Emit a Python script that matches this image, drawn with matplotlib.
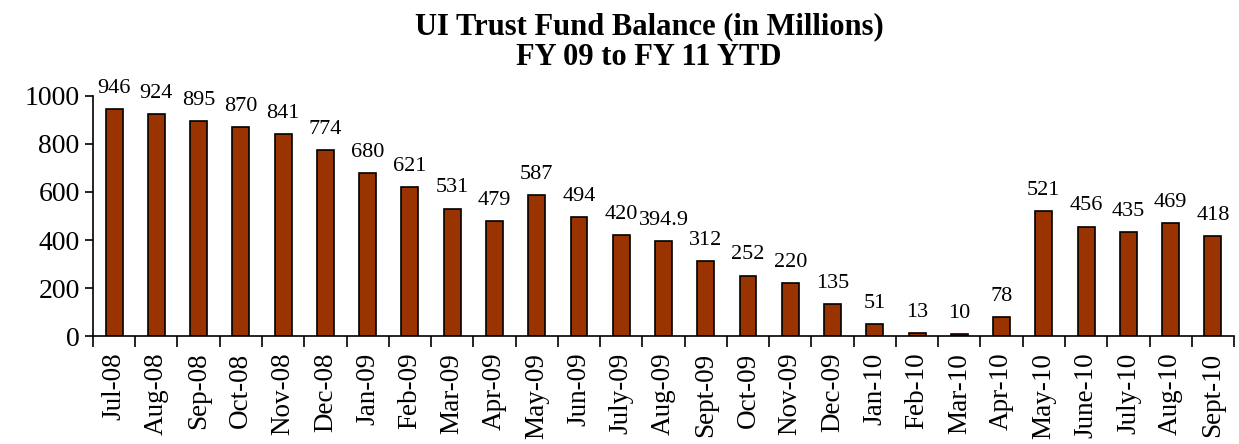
import matplotlib
matplotlib.use("Agg")
import matplotlib.pyplot as plt
import numpy as np

months = ["Jul-08", "Aug-08", "Sep-08", "Oct-08", "Nov-08", "Dec-08", "Jan-09", "Feb-09",
          "Mar-09", "Apr-09", "May-09", "Jun-09", "July-09", "Aug-09", "Sept-09", "Oct-09",
          "Nov-09", "Dec-09", "Jan-10", "Feb-10", "Mar-10", "Apr-10", "May-10", "June-10",
          "July-10", "Aug-10", "Sept-10"]
balance = [946, 924, 895, 870, 841, 774, 680, 621, 531, 479, 587, 494, 420, 394.9, 312, 252,
           220, 135, 51, 13, 10, 78, 521, 456, 435, 469, 418]
labels = ["946", "924", "895", "870", "841", "774", "680", "621", "531", "479", "587", "494",
          "420", "394.9", "312", "252", "220", "135", "51", "13", "10", "78", "521", "456",
          "435", "469", "418"]

plt.rcParams['font.family'] = ['Liberation Serif', 'DejaVu Serif']

fig = plt.figure(figsize=(12.39, 4.44), dpi=100)
ax = fig.add_axes([0.075, 0.243, 0.921, 0.541])

x = np.arange(len(months))
ax.bar(x, balance, width=0.4, color="#993300", edgecolor="black", linewidth=1.2)
for xi, v, s in zip(x, balance, labels):
    ax.annotate(s, (xi, v), xytext=(0, 8), textcoords="offset points",
                ha="center", va="bottom", fontsize=16, annotation_clip=False)

ax.set_xlim(-0.5, len(months) - 0.5)
ax.set_ylim(0, 1000)
ax.set_yticks([0, 200, 400, 600, 800, 1000])
ax.tick_params(axis="y", labelsize=20, direction="out", length=6, width=1.2)
ax.set_xticks(x)
ax.set_xticklabels(months, rotation=90, fontsize=19.5)
ax.tick_params(axis="x", length=0, pad=12)
ax.set_xticks(np.arange(len(months) + 1) - 0.5, minor=True)
ax.tick_params(axis="x", which="minor", direction="out", length=8, width=1.2)

for side in ["top", "right"]:
    ax.spines[side].set_visible(False)
for side in ["left", "bottom"]:
    ax.spines[side].set_linewidth(1.2)

fig.text(0.524, 0.972, "UI Trust Fund Balance (in Millions)\nFY 09 to FY 11 YTD",
         ha="center", va="top", fontsize=22, fontweight="bold", linespacing=1.05)

fig.savefig("out.png", dpi=100)
